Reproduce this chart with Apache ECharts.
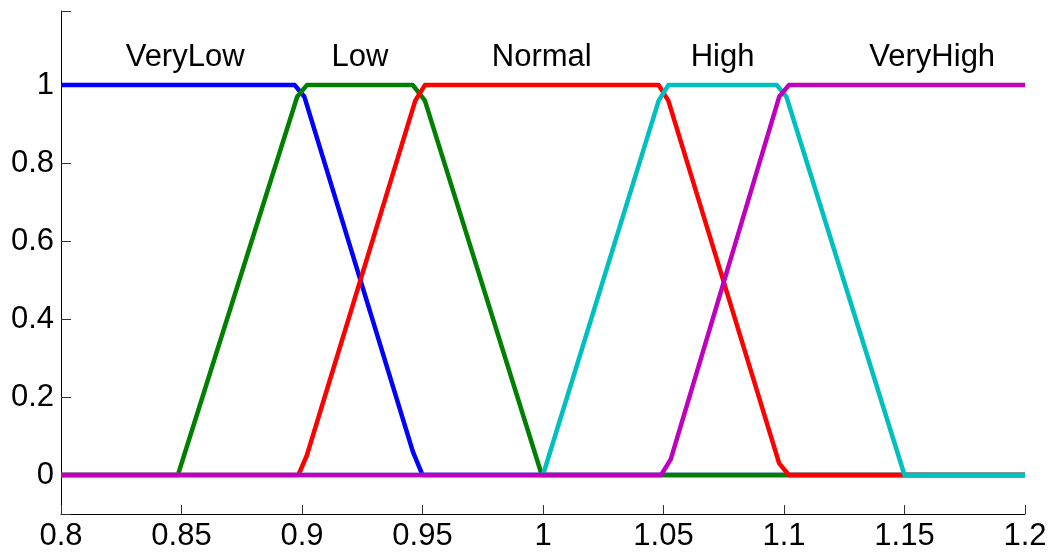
<!DOCTYPE html>
<html>
<head>
<meta charset="utf-8">
<script src="https://cdn.jsdelivr.net/npm/echarts@6/dist/echarts.min.js"></script>
<style>
  html, body { margin: 0; padding: 0; background: #fff; }
  #main { width: 1057px; height: 556px; }
</style>
</head>
<body>
<div id="main"></div>
<script>
// membership functions, [x, degree]
var veryLow  = [[0.8, 1], [0.897, 1], [0.901, 0.97], [0.946, 0.06], [0.95, 0], [1.2, 0]];
var low      = [[0.8, 0], [0.8485, 0], [0.898, 0.97], [0.902, 1], [0.946, 1], [0.951, 0.96], [0.9995, 0], [1.2, 0]];
var normal   = [[0.8, 0], [0.8985, 0], [0.902, 0.05], [0.947, 0.96], [0.951, 1], [1.048, 1], [1.052, 0.96], [1.098, 0.03], [1.102, 0], [1.2, 0]];
var high     = [[0.8, 0], [1.0, 0], [1.048, 0.96], [1.052, 1], [1.097, 1], [1.101, 0.97], [1.15, 0], [1.2, 0]];
var veryHigh = [[0.8, 0], [1.049, 0], [1.053, 0.04], [1.098, 0.97], [1.102, 1], [1.2, 1]];

var seriesNames = ['VeryLow', 'Low', 'Normal', 'High', 'VeryHigh'];
var seriesData = [veryLow, low, normal, high, veryHigh];
var colors = ['#0000ff', '#008000', '#ff0000', '#00bfbf', '#bf00bf'];

// text labels above the curves
var labelX = [0.8515, 0.924, 0.9995, 1.0745, 1.1615];
var labelY = 1.07;

var xTicks = [0.8, 0.85, 0.9, 0.95, 1, 1.05, 1.1, 1.15, 1.2];
var yTicks = [0, 0.2, 0.4, 0.6, 0.8, 1];

var FONT = 'Liberation Sans, Arial, sans-serif';

var myChart = echarts.init(document.getElementById('main'));

var series = [];
for (var i = 0; i < seriesData.length; i++) {
    series.push({
        name: seriesNames[i],
        type: 'line',
        data: seriesData[i],
        showSymbol: false,
        symbol: 'none',
        lineStyle: { color: colors[i], width: 4.5, join: 'round' },
        itemStyle: { color: colors[i] },
        z: 2 + i
    });
}
series.push({
    type: 'scatter',
    symbolSize: 0,
    itemStyle: { opacity: 1 },
    data: labelX.map(function (x, i) { return { value: [x, labelY], name: seriesNames[i] }; }),
    label: {
        show: true,
        position: 'inside',
        formatter: function (p) { return p.name; },
        fontFamily: FONT,
        fontSize: 31,
        color: '#000',
        opacity: 1,
        textBorderWidth: 0
    },
    z: 20
});

myChart.setOption({
    animation: false,
    backgroundColor: '#fff',
    grid: { left: 61, right: 32, top: 11, bottom: 42, containLabel: false, outerBoundsMode: 'none' },
    xAxis: {
        type: 'value',
        min: 0.8,
        max: 1.2,
        interval: 0.05,
        splitLine: { show: false },
        axisLine: { show: true, onZero: false, lineStyle: { color: '#000', width: 1 } },
        axisTick: { show: true, inside: true, length: 9, lineStyle: { color: '#333' } },
        axisLabel: {
            show: true,
            customValues: xTicks,
            margin: 7,
            fontFamily: FONT,
            fontSize: 31,
            color: '#000',
            formatter: function (v) { return String(+v.toFixed(2)); }
        }
    },
    yAxis: {
        type: 'value',
        min: -0.1,
        max: 1.19,
        splitNumber: 6,
        splitLine: { show: false },
        axisLine: { show: true, onZero: false, lineStyle: { color: '#000', width: 1 } },
        axisTick: { show: true, inside: true, length: 10, lineStyle: { color: '#333', width: 1 } },
        axisLabel: {
            show: true,
            customValues: yTicks,
            margin: 7,
            fontFamily: FONT,
            fontSize: 31,
            color: '#000',
            formatter: function (v) { return String(+v.toFixed(1)); }
        }
    },
    series: series
});
</script>
</body>
</html>
